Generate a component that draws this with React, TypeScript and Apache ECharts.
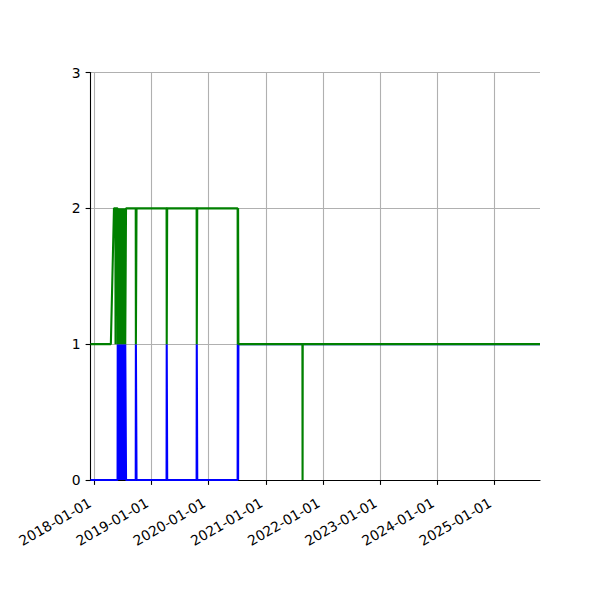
import React, { useEffect, useRef } from 'react';
import * as echarts from 'echarts';

// sample dates with the two counts (blue and green) at each date
const dates = [
    '2017-12-08', '2018-04-17', '2018-05-07', '2018-05-16', '2018-05-17', '2018-05-18',
    '2018-05-30', '2018-05-31', '2018-06-04', '2018-06-08', '2018-06-12', '2018-06-16',
    '2018-06-20', '2018-06-24', '2018-06-28', '2018-07-02', '2018-07-06', '2018-07-10',
    '2018-07-14', '2018-07-18', '2018-07-22', '2018-07-23',
    '2018-09-23', '2018-09-24', '2018-09-27', '2018-09-28',
    '2019-04-08', '2019-04-09', '2019-04-11', '2019-04-12',
    '2019-10-17', '2019-10-18', '2019-10-20', '2019-10-21',
    '2020-07-05', '2020-07-06', '2020-07-08', '2020-07-09', '2020-07-10',
    '2021-08-23', '2021-08-24', '2021-08-25', '2025-10-19',
];
const blueValues = [
    0, 0, 0, 0, 0, 0,
    0, 1, 0, 1, 0, 1,
    0, 1, 0, 1, 0, 1,
    0, 1, 1, 0,
    0, 1, 1, 0,
    0, 1, 1, 0,
    0, 1, 1, 0,
    0, 1, 0, 0, 1,
    1, 1, 1, 1,
];
const greenValues = [
    1, 1, 2, 2, 1, 2,
    2, 1, 2, 1, 2, 1,
    2, 1, 2, 1, 2, 1,
    2, 1, 1, 2,
    2, 1, 1, 2,
    2, 1, 1, 2,
    2, 1, 1, 2,
    2, 1, 2, 2, 1,
    1, 0, 1, 1,
];
const yearTicks = [
    '2018-01-01', '2019-01-01', '2020-01-01', '2021-01-01',
    '2022-01-01', '2023-01-01', '2024-01-01', '2025-01-01',
];
const xRange = ['2017-12-08', '2025-10-19'];

const toTime = (d: string) => {
    const [y, m, day] = d.split('-').map(Number);
    return Date.UTC(y, m - 1, day);
};

const pad = (n: number) => (n < 10 ? '0' + n : '' + n);
const fmtDate = (t: number) => {
    const d = new Date(t);
    return `${d.getUTCFullYear()}-${pad(d.getUTCMonth() + 1)}-${pad(d.getUTCDate())}`;
};

const FONT = 'DejaVu Sans';

export default function App() {
    const chartRef = useRef<HTMLDivElement>(null);

    useEffect(() => {
        if (!chartRef.current) return;
        const chart = echarts.init(chartRef.current, undefined, { renderer: 'svg' });

        const times = dates.map(toTime);
        const blueData = times.map((t, i) => [t, blueValues[i]]);
        const greenData = times.map((t, i) => [t, greenValues[i]]);

        const option: echarts.EChartsOption = {
            animation: false,
            backgroundColor: '#ffffff',
            grid: { left: 90.5, right: 60, top: 72.5, bottom: 120 },
            xAxis: {
                type: 'value',
                min: toTime(xRange[0]),
                max: toTime(xRange[1]),
                axisLine: { show: true, lineStyle: { color: '#000', width: 1.1 } },
                axisTick: {
                    show: true,
                    length: 4.9,
                    lineStyle: { color: '#000', width: 1.1 },
                    customValues: yearTicks.map(toTime),
                } as any,
                axisLabel: {
                    customValues: yearTicks.map(toTime),
                    rotate: 30,
                    margin: 19,
                    padding: [0, 5, 0, 0],
                    fontFamily: FONT,
                    fontSize: 13.9,
                    color: '#000',
                    formatter: (v: number) => fmtDate(v),
                } as any,
                splitLine: { show: true, lineStyle: { color: '#b0b0b0', width: 1.1 } },
            },
            yAxis: {
                type: 'value',
                min: 0,
                max: 3,
                interval: 1,
                axisLine: { show: true, lineStyle: { color: '#000', width: 1.1 } },
                axisTick: { show: true, length: 4.9, lineStyle: { color: '#000', width: 1.1 } },
                axisLabel: {
                    margin: 9.8,
                    fontFamily: FONT,
                    fontSize: 13.9,
                    color: '#000',
                },
                splitLine: { show: true, lineStyle: { color: '#b0b0b0', width: 1.1 } },
            },
            series: [
                {
                    type: 'line',
                    data: blueData,
                    showSymbol: false,
                    lineStyle: { color: '#0000ff', width: 2.1 },
                    itemStyle: { color: '#0000ff' },
                },
                {
                    type: 'line',
                    data: greenData,
                    showSymbol: false,
                    lineStyle: { color: '#008000', width: 2.1 },
                    itemStyle: { color: '#008000' },
                },
            ],
        };

        chart.setOption(option);
        return () => chart.dispose();
    }, []);

    return (
        <div
            ref={chartRef}
            style={{ position: 'fixed', left: 0, top: 0, width: 600, height: 600, background: '#fff' }}
        />
    );
}
